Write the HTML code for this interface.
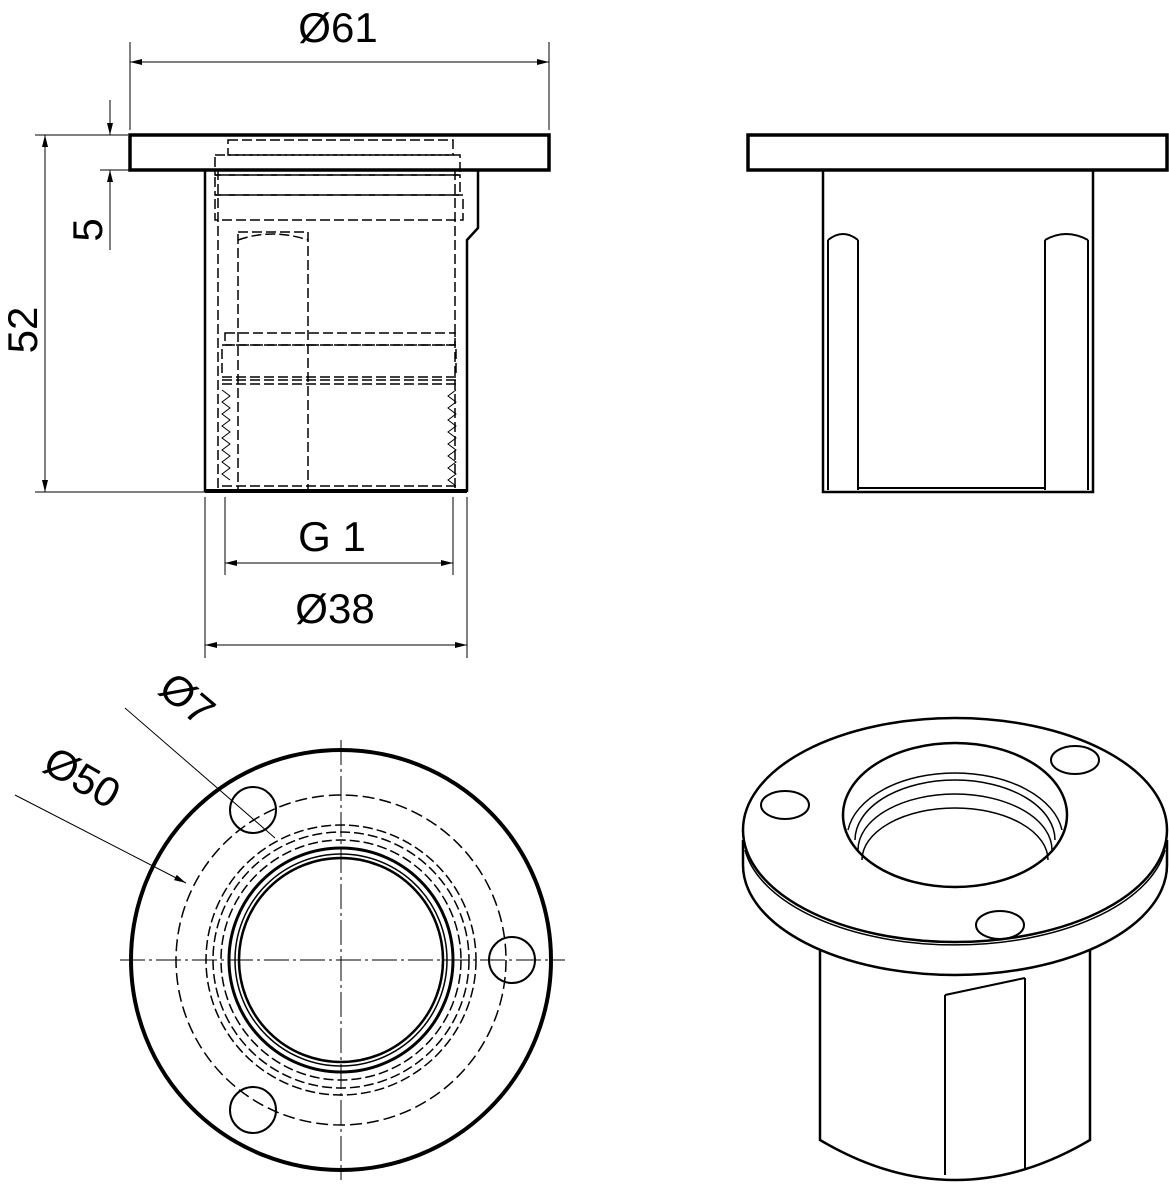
<!DOCTYPE html>
<html><head><meta charset="utf-8"><style>
html,body{margin:0;padding:0;background:#fff;}
svg{display:block;}
text{font-family:"Liberation Sans",Arial,sans-serif;fill:#000;}
</style></head><body>
<svg width="1169" height="1200" viewBox="0 0 1169 1200" xmlns="http://www.w3.org/2000/svg">
<defs>
<marker id="a" viewBox="0 0 12 6" refX="12" refY="3" markerWidth="12" markerHeight="6" orient="auto-start-reverse" markerUnits="userSpaceOnUse"><path d="M0,0 L12,3 L0,6 z" fill="#000"/></marker>
</defs>
<g fill="none" stroke="#000" stroke-width="1.5">
<rect x="130" y="135" width="419" height="35" stroke-width="3.5"/>
<path d="M205,170 V492 M478,170 V228 L467,240 V492" stroke-width="2.5"/>
<line x1="205" y1="491" x2="467" y2="491" stroke-width="4"/>
<g stroke-dasharray="10,4">
<path d="M218,170 V492 M455,170 V492"/>
<rect x="228" y="140" width="225" height="15"/>
<rect x="215" y="155" width="245" height="20"/>
<rect x="215" y="175" width="245" height="20"/>
<rect x="215" y="195" width="248" height="25"/>
<rect x="238" y="232" width="70" height="258"/>
<path d="M238,240 Q272,228 308,240"/>
<rect x="225" y="333" width="230" height="12"/>
<rect x="222" y="345" width="234" height="32"/>
<path d="M222,380 H456 M222,384 H456"/>
<path d="M222,486 H456"/>
</g>
<path d="M222,390 l8,6 l-8,6 l8,6 l-8,6 l8,6 l-8,6 l8,6 l-8,6 l8,6 l-8,6 l8,6 l-8,6 l8,6 l-8,6 l8,6 M456,390 l-8,6 l8,6 l-8,6 l8,6 l-8,6 l8,6 l-8,6 l8,6 l-8,6 l8,6 l-8,6 l8,6 l-8,6 l8,6 l-8,6 l8,6" stroke-width="1"/>
<path d="M130,130 V42 M549,130 V42 M35,135 H128 M35,492 H205 M100,170 H130 M205,497 V658 M467,497 V658 M225,497 V575 M453,497 V575" stroke-width="1"/>
<line x1="130" y1="62" x2="549" y2="62" marker-start="url(#a)" marker-end="url(#a)" stroke-width="1"/>
<line x1="45" y1="135" x2="45" y2="492" marker-start="url(#a)" marker-end="url(#a)" stroke-width="1"/>
<line x1="110" y1="100" x2="110" y2="135" marker-end="url(#a)" stroke-width="1"/>
<line x1="110" y1="250" x2="110" y2="170" marker-end="url(#a)" stroke-width="1"/>
<line x1="225" y1="563" x2="453" y2="563" marker-start="url(#a)" marker-end="url(#a)" stroke-width="1"/>
<line x1="205" y1="645" x2="467" y2="645" marker-start="url(#a)" marker-end="url(#a)" stroke-width="1"/>

<rect x="748" y="135" width="419" height="35" stroke-width="3.5"/>
<path d="M823,170 V492 H1093 V170" stroke-width="2.5"/>
<path d="M828,240 V490 M858,240 V490 M828,240 Q843,228 858,240 M1045,240 V490 M1088,240 V490 M1045,240 Q1066,228 1088,240 M858,488 H1045" stroke-width="2"/>

<circle cx="341" cy="960" r="210" stroke-width="4"/>
<circle cx="341" cy="960" r="165" stroke-dasharray="12,5"/>
<circle cx="253" cy="810" r="23" stroke-width="2"/>
<circle cx="512" cy="960" r="23" stroke-width="2"/>
<circle cx="253" cy="1110" r="23" stroke-width="2"/>
<circle cx="341" cy="960" r="135" stroke-dasharray="10,4"/>
<circle cx="341" cy="960" r="128" stroke-dasharray="10,4"/>
<circle cx="341" cy="960" r="120" stroke-dasharray="10,4"/>
<circle cx="341" cy="960" r="112" stroke-width="3"/>
<circle cx="341" cy="960" r="106" stroke-width="1.5"/>
<circle cx="341" cy="960" r="102" stroke-width="2.5"/>
<path d="M341,740 V1180 M120,960 H565" stroke-width="1" stroke-dasharray="25,4,3,4"/>
<path d="M125,708 L275,838" stroke-width="1"/>
<line x1="15" y1="795" x2="186" y2="883" marker-end="url(#a)" stroke-width="1"/>

<path d="M820,950 V1140 Q955,1220 1090,1140 V950" stroke-width="2.5"/>
<path d="M945,995 V1175 M1025,978 V1170 M945,995 L1025,978" stroke-width="2"/>
<path d="M743,840 V865 A212,110 0 0 0 1167,865 V840" stroke-width="2.5" fill="#fff"/>
<path d="M745,850 A212,110 0 0 0 1165,850" stroke-width="1.5"/>
<ellipse cx="955" cy="830" rx="212" ry="112" stroke-width="2.5" fill="#fff"/>
<ellipse cx="955" cy="815" rx="112" ry="72" stroke-width="2.5"/>
<path d="M848,830 A108,66 0 0 1 1062,830 M855,840 A100,60 0 0 1 1055,840 M858,850 A97,56 0 0 1 1052,850 M862,860 A93,52 0 0 1 1048,860" stroke-width="1.5"/>
<ellipse cx="785" cy="805" rx="24" ry="14" stroke-width="2"/>
<ellipse cx="1075" cy="760" rx="24" ry="14" stroke-width="2"/>
<ellipse cx="1000" cy="925" rx="24" ry="14" stroke-width="2"/>
</g>
<text x="338" y="42" font-size="42" text-anchor="middle">Ø61</text>
<text x="335" y="623" font-size="42" text-anchor="middle">Ø38</text>
<text x="332" y="551" font-size="42" text-anchor="middle">G 1</text>
<text transform="translate(37,330) rotate(-90)" font-size="42" text-anchor="middle">52</text>
<text transform="translate(102,230) rotate(-90)" font-size="42" text-anchor="middle">5</text>
<text transform="translate(178,710) rotate(40)" font-size="42" text-anchor="middle">Ø7</text>
<text transform="translate(75,790) rotate(30)" font-size="42" text-anchor="middle">Ø50</text>
</svg>
</body></html>
